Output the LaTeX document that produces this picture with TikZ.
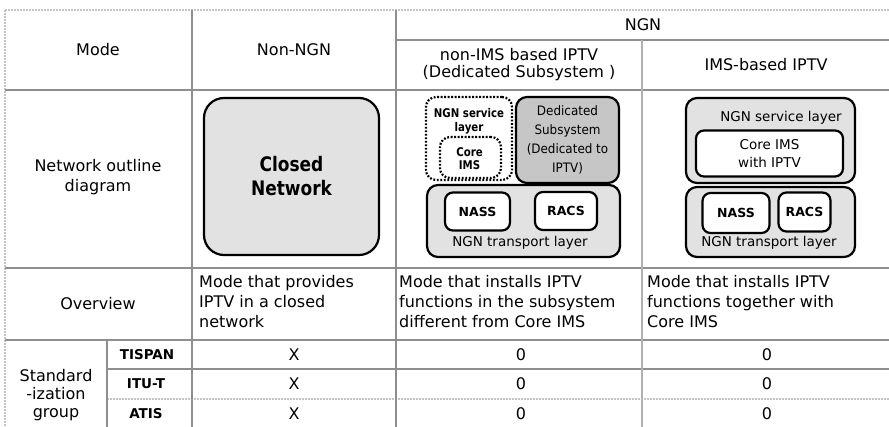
\documentclass[tikz,border=0pt]{standalone}
\usepackage{fontspec}
\setmainfont{DejaVu Sans}
\newfontfamily\narrowfont[FakeStretch=0.85]{DejaVu Sans}
\newfontfamily\slimfont[FakeStretch=0.92]{DejaVu Sans}
\definecolor{rulegray}{HTML}{8E8E8E}
\definecolor{faintgray}{HTML}{C4C4C4}
\definecolor{paleFill}{HTML}{E2E2E2}
\definecolor{darkFill}{HTML}{C6C6C6}
\tikzset{
  cell/.style={inner sep=0pt, align=center, font=\fontsize{16}{19}\selectfont},
  para/.style={inner sep=0pt, align=left, anchor=west, font=\fontsize{16}{20}\selectfont},
  small/.style={inner sep=0pt, align=center, font=\fontsize{13}{15}\selectfont},
  group/.style={inner sep=0pt, align=center, font=\bfseries\fontsize{13.5}{15}\selectfont},
  rule/.style={draw=rulegray, line width=1.6pt},
  faint/.style={draw=faintgray, line width=1.2pt, dash pattern=on 2pt off 1pt},
  layerbox/.style={draw=black, line width=2.2pt, rounded corners=11pt, fill=paleFill, inner sep=0pt},
  funcbox/.style={draw=black, line width=2.2pt, rounded corners=8pt, fill=white, inner sep=0pt},
  dotbox/.style={draw=black, line width=2.2pt, dash pattern=on 1.8pt off 1.7pt, rounded corners=10pt, fill=white, inner sep=0pt},
}
\begin{document}
\begin{tikzpicture}[x=1pt,y=-1pt]
\useasboundingbox (0,0) rectangle (889,427);
\fill[white] (0,0) rectangle (889,427);

% ---- table grid ----
\draw[faint] (5,10) -- (889,10);
\draw[faint] (5,10) -- (5,427);
\draw[faint] (107,399) -- (889,399);
\draw[rule] (396,40) -- (889,40);
\draw[rule] (5,90) -- (889,90);
\draw[rule] (5,268) -- (889,268);
\draw[rule] (5,340) -- (889,340);
\draw[rule] (107,369) -- (889,369);
\draw[rule] (192,10) -- (192,427);
\draw[rule] (396,10) -- (396,427);
\draw[rule] (107,340) -- (107,427);
\draw[draw=rulegray!70, line width=1.3pt] (642,40) -- (642,427);

% ---- header ----
\node[cell] (hmode) at (98,50) {Mode};
\node[cell] (hnon) at (294,50) {Non-NGN};
\node[cell] (hngn) at (643,25) {NGN};
\node[cell, font=\fontsize{16}{17}\selectfont] (hnonims) at (519,65) {non-IMS based IPTV\\(Dedicated Subsystem )};
\node[cell] (hims) at (766,65) {IMS-based IPTV};

% ---- network outline row ----
\node[cell, font=\fontsize{16}{20}\selectfont] (lnet) at (98,177) {Network outline\\diagram};

% closed network
\node[draw=black, line width=2.2pt, rounded corners=20pt, fill=paleFill,
      minimum width=175pt, minimum height=157pt, inner sep=0pt,
      align=center, font=\narrowfont\bfseries\fontsize{20}{24}\selectfont]
      (closed) at (291.5,176.5) {Closed\\Network};

% non-IMS based IPTV
\node[dotbox, minimum width=86pt, minimum height=83pt] (svcdot) at (469,138.5) {};
\node[dotbox, minimum width=61pt, minimum height=41pt] (coredot) at (470.5,157.5) {};
\node[small, font=\narrowfont\bfseries\fontsize{12}{14}\selectfont] (svcdottxt) at (469,121) {NGN service\\layer};
\node[small, font=\narrowfont\bfseries\fontsize{12}{13}\selectfont] (coredottxt) at (469.5,158.5) {Core\\IMS};
\node[layerbox, fill=darkFill, minimum width=103pt, minimum height=86pt,
      align=center, font=\slimfont\fontsize{13}{19}\selectfont]
      (ded) at (567.5,140) {Dedicated\\Subsystem\\(Dedicated to\\IPTV)};
\node[layerbox, minimum width=193pt, minimum height=72pt] (trans1) at (523.5,221) {};
\node[funcbox, minimum width=65pt, minimum height=38pt, font=\bfseries\fontsize{12.5}{14}\selectfont] (nass1) at (477.5,211.5) {NASS};
\node[funcbox, minimum width=62pt, minimum height=38pt, font=\bfseries\fontsize{12.5}{14}\selectfont] (racs1) at (566,211) {RACS};
\node[small, font=\fontsize{13.5}{15}\selectfont] (trans1txt) at (520,243) {NGN transport layer};

% IMS-based IPTV
\node[layerbox, minimum width=169pt, minimum height=85pt] (svc2) at (770.5,140.5) {};
\node[small, font=\fontsize{13.5}{15}\selectfont] (svc2txt) at (781,118) {NGN service layer};
\node[funcbox, minimum width=147pt, minimum height=46pt, align=center,
      font=\fontsize{13.5}{18}\selectfont] (core2) at (769.5,153.5) {Core IMS\\with IPTV};
\node[layerbox, minimum width=169pt, minimum height=70pt] (trans2) at (770.5,222) {};
\node[funcbox, minimum width=67pt, minimum height=40pt, font=\bfseries\fontsize{12.5}{14}\selectfont] (nass2) at (736,213) {NASS};
\node[funcbox, minimum width=52pt, minimum height=39pt, font=\bfseries\fontsize{12.5}{14}\selectfont] (racs2) at (804.5,212) {RACS};
\node[small, font=\fontsize{13.5}{15}\selectfont] (trans2txt) at (769,243) {NGN transport layer};

% ---- overview row ----
\node[cell] (lov) at (98,304) {Overview};
\node[para] (ov1) at (199,302) {Mode that provides\\IPTV in a closed\\network};
\node[para] (ov2) at (399,302) {Mode that installs IPTV\\functions in the subsystem\\different from Core IMS};
\node[para] (ov3) at (647,302) {Mode that installs IPTV\\functions together with\\Core IMS};

% ---- standardization rows ----
\node[cell, font=\fontsize{16}{18}\selectfont] (lstd) at (56,395) {Standard\\-ization\\group};
\node[group] (ltis) at (147,355) {TISPAN};
\node[group] (litu) at (146,384) {ITU-T};
\node[group] (latis) at (146,414) {ATIS};
\node[cell] (x1) at (294,355) {X};
\node[cell] (x2) at (294,384) {X};
\node[cell] (x3) at (294,414) {X};
\node[cell] (a1) at (521,355) {0};
\node[cell] (a2) at (521,384) {0};
\node[cell] (a3) at (521,414) {0};
\node[cell] (b1) at (767,355) {0};
\node[cell] (b2) at (767,384) {0};
\node[cell] (b3) at (767,414) {0};
\end{tikzpicture}
\end{document}
